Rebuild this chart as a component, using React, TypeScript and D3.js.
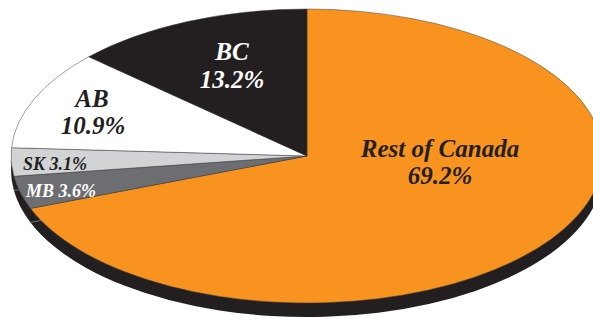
import React from "react";
import * as d3 from "d3";

const categories = ["Rest of Canada", "MB", "SK", "AB", "BC"];
const shares = [69.2, 3.6, 3.1, 10.9, 13.2];
const valueLabels = ["69.2%", "3.6%", "3.1%", "10.9%", "13.2%"];

const W = 593;
const H = 320;
const CX = 307;
const CY = 156;
const RX = 296;
const RY = 147;
const DEPTH = 14;

const fills: Record<string, string> = {
  "Rest of Canada": "#f7931e",
  MB: "#6d6e71",
  SK: "#d1d3d4",
  AB: "#ffffff",
  BC: "#231f20",
};

export default function App() {
  const pie = d3
    .pie<number>()
    .sort(null)
    .value((d) => d);
  const arcs = pie(shares);
  const arc = d3.arc<d3.PieArcDatum<number>>().innerRadius(0).outerRadius(RX);
  const squash = `scale(1, ${RY / RX})`;
  const font = "'Liberation Serif', 'Times New Roman', serif";

  const big = 25;
  const small = 18;

  return (
    <svg width={W} height={H} style={{ position: "absolute", left: 0, top: 0 }}>
      {/* depth / shadow layer */}
      <g transform={`translate(${CX},${CY + DEPTH}) ${squash}`}>
        {arcs.map((a, i) => (
          <path key={"s" + i} d={arc(a) || ""} fill="#231f20" />
        ))}
        {arcs.map((a, i) => (
          <line
            key={"l" + i}
            x1={0}
            y1={0}
            x2={RX * Math.sin(a.startAngle)}
            y2={-RX * Math.cos(a.startAngle)}
            stroke="#808285"
            strokeWidth={0.7}
            vectorEffect="non-scaling-stroke"
          />
        ))}
      </g>
      {/* top face */}
      <g transform={`translate(${CX},${CY}) ${squash}`}>
        {arcs.map((a, i) => (
          <path
            key={i}
            d={arc(a) || ""}
            fill={fills[categories[i]]}
            stroke="#414042"
            strokeWidth={0.5}
            vectorEffect="non-scaling-stroke"
          />
        ))}
      </g>
      {/* labels */}
      <g fontFamily={font} fontStyle="italic" fontWeight="bold">
        <text x={440} textAnchor="middle" fontSize={big} fill="#231f20">
          <tspan x={440} y={157}>{categories[0]}</tspan>
          <tspan x={440} y={184}>{valueLabels[0]}</tspan>
        </text>
        <text x={232} textAnchor="middle" fontSize={big} fill="#ffffff">
          <tspan x={232} y={60}>{categories[4]}</tspan>
          <tspan x={232} y={88}>{valueLabels[4]}</tspan>
        </text>
        <text x={93} textAnchor="middle" fontSize={big} fill="#231f20">
          <tspan x={92} y={107}>{categories[3]}</tspan>
          <tspan x={93} y={134}>{valueLabels[3]}</tspan>
        </text>
        <text x={23} y={170} fontSize={small} fill="#231f20">
          {`${categories[2]} ${valueLabels[2]}`}
        </text>
        <text x={26} y={197} fontSize={small} fill="#ffffff">
          {`${categories[1]} ${valueLabels[1]}`}
        </text>
      </g>
    </svg>
  );
}
